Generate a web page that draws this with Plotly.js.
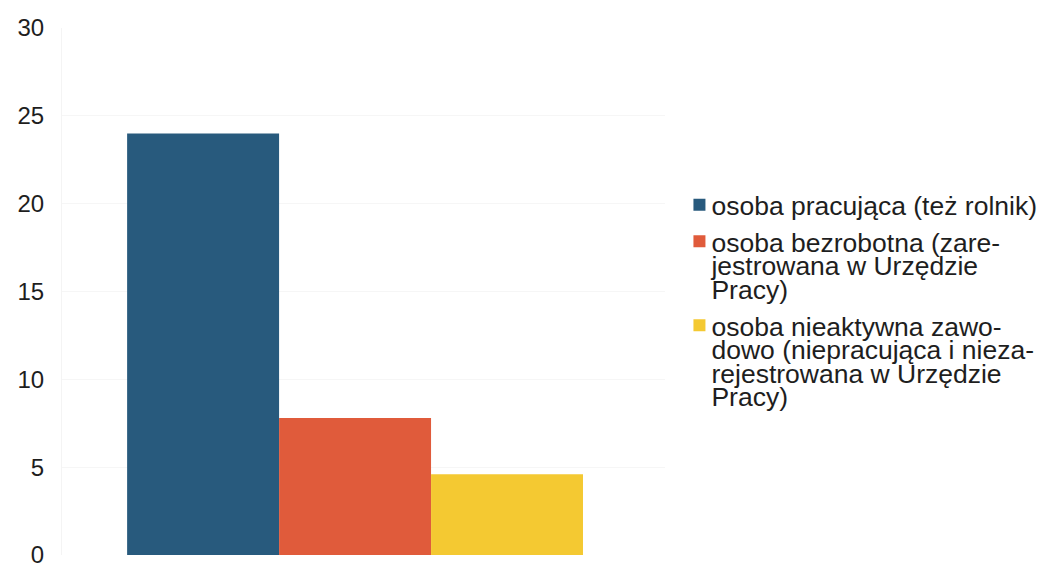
<!DOCTYPE html>
<html>
<head>
<meta charset="utf-8">
<script src="https://cdn.plot.ly/plotly-3.0.1.min.js"></script>
<style>html,body{margin:0;padding:0;background:#fff;}#chart{width:1041px;height:564px;}</style>
</head>
<body>
<div id="chart"></div>
<script>
const categories = [""];
const seriesNames = [
  "osoba pracująca (też rolnik)",
  "osoba bezrobotna (zare-<br>jestrowana w Urzędzie<br>Pracy)",
  "osoba nieaktywna zawo-<br>dowo (niepracująca i nieza-<br>rejestrowana w Urzędzie<br>Pracy)"
];
const pracujaca = [24];
const bezrobotna = [7.8];
const nieaktywna = [4.6];
const colors = ["#285a7d", "#e05b3b", "#f4c932"];
const yTicks = [0, 5, 10, 15, 20, 25, 30];

const values = [pracujaca, bezrobotna, nieaktywna];
const traces = values.map((v, i) => ({
  type: "bar",
  x: [0],
  y: v,
  name: seriesNames[i],
  marker: {color: colors[i], line: {width: 0}},
  hoverinfo: "y"
}));

const LEGEND_FONT = 26.5;
const LINE_PITCH = 23.6;   // tight line spacing of the original legend
const ENTRY_GAP = 13;      // extra space between legend entries

const layout = {
  width: 1041, height: 564,
  margin: {l: 62, r: 376, t: 28, b: 9},
  paper_bgcolor: "#ffffff",
  plot_bgcolor: "#ffffff",
  font: {family: "Liberation Sans, Arial, sans-serif", color: "#1e1e1e"},
  barmode: "group",
  bargap: 0.244,
  bargroupgap: 0,
  showlegend: true,
  legend: {
    xref: "container", yref: "container",
    x: 0.645, y: 0.679, xanchor: "left", yanchor: "top",
    font: {size: LEGEND_FONT, color: "#1e1e1e"},
    valign: "top",
    itemwidth: 30,
    bgcolor: "rgba(0,0,0,0)"
  },
  xaxis: {
    range: [-0.486, 0.514],
    showticklabels: false, showgrid: false, zeroline: false,
    showline: false, ticks: ""
  },
  yaxis: {
    range: [0, 30],
    tickvals: yTicks,
    ticktext: yTicks.map(String),
    tickfont: {size: 24, color: "#1e1e1e"},
    ticks: "",
    ticklabelstandoff: 12,
    ticklabeloverflow: "allow",
    showgrid: true, gridcolor: "#f6f6f6", gridwidth: 1,
    zeroline: false, showline: true, linecolor: "#f4f4f4"
  }
};

Plotly.newPlot("chart", traces, layout, {displayModeBar: false, staticPlot: true}).then(gd => {
  // tighten legend line spacing to match the original
  const lh = LEGEND_FONT * 1.3;
  const items = gd.querySelectorAll(".legend .traces");
  let first = null;
  items.forEach((g) => {
    const lines = g.querySelectorAll("text.legendtext tspan.line");
    const n = Math.max(lines.length, 1);
    lines.forEach((t, j) => { t.setAttribute("dy", (j * LINE_PITCH / LEGEND_FONT) + "em"); });
    const pts = g.querySelector(".legendpoints");
    if (pts) pts.setAttribute("transform", "translate(8,0)");
    const m = /translate\(\s*([-\d.]+)[ ,]+([-\d.]+)/.exec(g.getAttribute("transform") || "");
    const tx = m ? parseFloat(m[1]) : 0;
    const ty = m ? parseFloat(m[2]) : 0;
    if (first === null) first = ty - (n - 1) * lh / 2;
    g.setAttribute("transform", "translate(" + tx + "," + (first + (n - 1) * lh / 2) + ")");
    first += n * LINE_PITCH + ENTRY_GAP;
  });
});
</script>
</body>
</html>
